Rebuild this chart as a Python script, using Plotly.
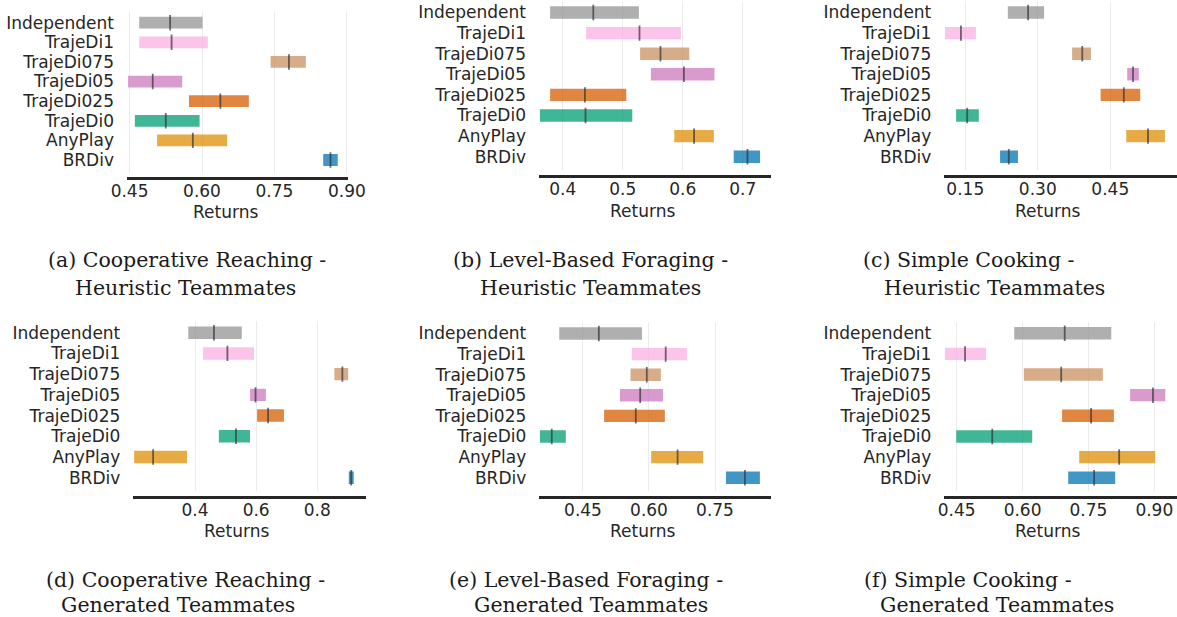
import plotly.graph_objects as go

W, H = 1177, 617

methods = ["Independent", "TrajeDi1", "TrajeDi075", "TrajeDi05",
           "TrajeDi025", "TrajeDi0", "AnyPlay", "BRDiv"]
base_colors = ["#949494", "#fbafe4", "#ca9161", "#cc78bc",
               "#d55e00", "#029e73", "#de8f05", "#0173b2"]

# (a) Cooperative Reaching - Heuristic
cr_heur_low = [0.470, 0.470, 0.742, 0.447, 0.573, 0.461, 0.507, 0.851]
cr_heur_high = [0.601, 0.612, 0.815, 0.559, 0.697, 0.595, 0.652, 0.881]
cr_heur_med = [0.534, 0.537, 0.780, 0.498, 0.638, 0.525, 0.581, 0.866]
# (b) Level-Based Foraging - Heuristic
lbf_heur_low = [0.379, 0.439, 0.529, 0.547, 0.379, 0.362, 0.586, 0.685]
lbf_heur_high = [0.527, 0.597, 0.611, 0.653, 0.506, 0.516, 0.652, 0.729]
lbf_heur_med = [0.451, 0.528, 0.563, 0.602, 0.437, 0.438, 0.619, 0.708]
# (c) Simple Cooking - Heuristic
sc_heur_low = [0.238, 0.108, 0.371, 0.485, 0.430, 0.131, 0.483, 0.222]
sc_heur_high = [0.313, 0.172, 0.410, 0.509, 0.512, 0.178, 0.563, 0.259]
sc_heur_med = [0.280, 0.141, 0.392, 0.497, 0.478, 0.154, 0.528, 0.240]
# (d) Cooperative Reaching - Generated
cr_gen_low = [0.378, 0.426, 0.856, 0.580, 0.603, 0.478, 0.201, 0.903]
cr_gen_high = [0.553, 0.593, 0.901, 0.632, 0.691, 0.580, 0.374, 0.919]
cr_gen_med = [0.462, 0.506, 0.882, 0.598, 0.639, 0.534, 0.263, 0.911]
# (e) Level-Based Foraging - Generated
lbf_gen_low = [0.396, 0.561, 0.558, 0.534, 0.498, 0.352, 0.605, 0.775]
lbf_gen_high = [0.584, 0.686, 0.627, 0.632, 0.636, 0.411, 0.723, 0.852]
lbf_gen_med = [0.486, 0.638, 0.595, 0.580, 0.570, 0.379, 0.665, 0.818]
# (f) Simple Cooking - Generated
sc_gen_low = [0.581, 0.423, 0.603, 0.845, 0.690, 0.449, 0.729, 0.704]
sc_gen_high = [0.802, 0.517, 0.783, 0.925, 0.808, 0.622, 0.902, 0.811]
sc_gen_med = [0.696, 0.469, 0.688, 0.897, 0.756, 0.531, 0.820, 0.763]

ticks_a = [0.45, 0.60, 0.75, 0.90]
ticks_b = [0.4, 0.5, 0.6, 0.7]
ticks_c = [0.15, 0.30, 0.45]
ticks_d = [0.4, 0.6, 0.8]
ticks_e = [0.45, 0.60, 0.75]
ticks_f = [0.45, 0.60, 0.75, 0.90]

captions = [
    ("(a) Cooperative Reaching -", "Heuristic Teammates"),
    ("(b) Level-Based Foraging -", "Heuristic Teammates"),
    ("(c) Simple Cooking -", "Heuristic Teammates"),
    ("(d) Cooperative Reaching -", "Generated Teammates"),
    ("(e) Level-Based Foraging -", "Generated Teammates"),
    ("(f) Simple Cooking -", "Generated Teammates"),
]

data = [
    (cr_heur_low, cr_heur_high, cr_heur_med, ticks_a, "{:.2f}"),
    (lbf_heur_low, lbf_heur_high, lbf_heur_med, ticks_b, "{:.1f}"),
    (sc_heur_low, sc_heur_high, sc_heur_med, ticks_c, "{:.2f}"),
    (cr_gen_low, cr_gen_high, cr_gen_med, ticks_d, "{:.1f}"),
    (lbf_gen_low, lbf_gen_high, lbf_gen_med, ticks_e, "{:.2f}"),
    (sc_gen_low, sc_gen_high, sc_gen_med, ticks_f, "{:.2f}"),
]

# layout geometry in pixels: x-left, x-right, xrange, first centre, last centre, axis-line y
geom = [
    dict(L=127, R=348, xr=[0.4447, 0.9023], c0=22.7, c7=160.0, ax=177.7,
         lab=(225.7, 211.7), cap=((187, 260), (185, 288))),
    dict(L=539, R=771, xr=[0.3605, 0.7472], c0=12.5, c7=156.7, ax=176.0,
         lab=(642.5, 210.7), cap=((590.5, 260), (590.8, 288))),
    dict(L=944.3, R=1176.7, xr=[0.1066, 0.5874], c0=12.5, c7=156.7, ax=175.7,
         lab=(1047, 210.7), cap=((969, 260), (994, 288))),
    dict(L=133.3, R=366, xr=[0.1982, 0.9593], c0=332.7, c7=477.7, ax=496.7,
         lab=(236.7, 531), cap=((186, 579.5), (178, 604.5))),
    dict(L=539.3, R=770.7, xr=[0.3507, 0.8766], c0=333.5, c7=477.7, ax=496.7,
         lab=(642.5, 531), cap=((586, 579.5), (591, 604.5))),
    dict(L=944.3, R=1176.7, xr=[0.4218, 0.9510], c0=333.3, c7=477.7, ax=496.7,
         lab=(1047, 531), cap=((967.5, 579.5), (996.7, 604.5))),
]


def rgba(hex_color, a):
    h = hex_color.lstrip("#")
    r, g, b = int(h[0:2], 16), int(h[2:4], 16), int(h[4:6], 16)
    return f"rgba({r},{g},{b},{a})"


bar_colors = [rgba(c, 0.75) for c in base_colors]
TXT = "#262626"
SANS = "DejaVu Sans"
SERIF = "DejaVu Serif"

fig = go.Figure()
layout = dict(width=W, height=H, margin=dict(l=0, r=0, t=0, b=0, autoexpand=False),
              paper_bgcolor="white", plot_bgcolor="white", showlegend=False)
annotations = []
yidx = list(range(len(methods)))

for i, ((lo, hi, med, tv, fmt), g) in enumerate(zip(data, geom)):
    n = i + 1
    xa = "x" if n == 1 else f"x{n}"
    ya = "y" if n == 1 else f"y{n}"
    span = [h - l for l, h in zip(lo, hi)]
    fig.add_trace(go.Bar(
        y=yidx, x=span, base=lo, orientation="h", width=0.6,
        marker=dict(color=bar_colors, line=dict(width=0)),
        xaxis=xa, yaxis=ya, hoverinfo="skip"))
    fig.add_trace(go.Scatter(
        y=yidx, x=med, mode="markers", xaxis=xa, yaxis=ya,
        marker=dict(symbol="line-ns", size=11,
                    line=dict(width=1.8, color="rgba(50,50,50,0.7)")),
        hoverinfo="skip"))

    s = (g["c7"] - g["c0"]) / 7.0
    top_px = g["c0"] - 0.55 * s
    bot_px = g["c0"] + 7.65 * s
    xkey = "xaxis" if n == 1 else f"xaxis{n}"
    ykey = "yaxis" if n == 1 else f"yaxis{n}"
    layout[xkey] = dict(
        domain=[g["L"] / W, g["R"] / W], range=g["xr"], automargin=False,
        anchor="free", position=1 - g["ax"] / H,
        showline=True, linecolor=TXT, linewidth=2.5,
        showgrid=True, gridcolor="#ebebeb", gridwidth=1.3, zeroline=False,
        tickmode="array", tickvals=tv, ticktext=[fmt.format(v) for v in tv],
        ticks="", ticklabelstandoff=-3,
        tickfont=dict(family=SANS, size=17, color=TXT))
    layout[ykey] = dict(
        domain=[1 - bot_px / H, 1 - top_px / H], range=[7.65, -0.55],
        anchor=xa, showline=False, showgrid=False, zeroline=False,
        automargin=False,
        tickmode="array", tickvals=yidx, ticktext=methods, ticks="",
        ticklabelstandoff=12,
        tickfont=dict(family=SANS, size=17, color=TXT))

    annotations.append(dict(
        x=g["lab"][0] / W, y=1 - g["lab"][1] / H, xref="paper", yref="paper",
        text="Returns", showarrow=False, xanchor="center", yanchor="middle",
        font=dict(family=SANS, size=17, color=TXT)))
    for (cx, cy), line in zip(g["cap"], captions[i]):
        annotations.append(dict(
            x=cx / W, y=1 - cy / H, xref="paper", yref="paper",
            text=line, showarrow=False, xanchor="center", yanchor="middle",
            borderpad=0,
            font=dict(family=SERIF, size=20.5, color="#1a1a1a")))

layout["annotations"] = annotations
fig.update_layout(**layout)
fig.write_html("out.html")
